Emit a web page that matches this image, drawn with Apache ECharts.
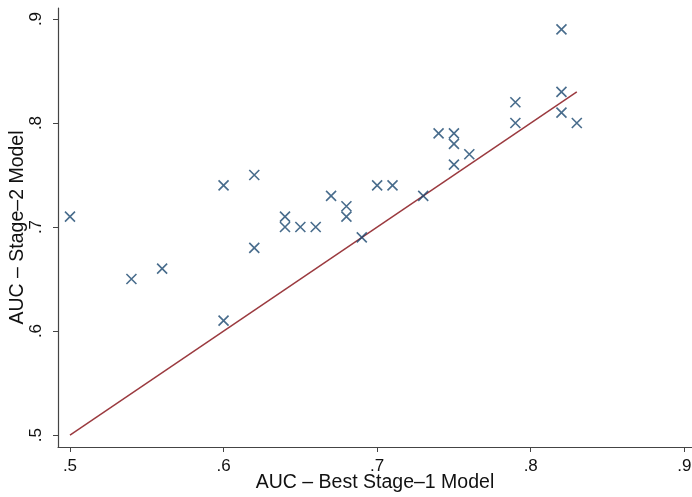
<!DOCTYPE html>
<html><head><meta charset="utf-8">
<script src="https://cdn.jsdelivr.net/npm/echarts@6/dist/echarts.min.js"></script>
<style>html,body{margin:0;padding:0;background:#fff}#c{width:692px;height:497px}</style>
</head><body><div id="c"></div>
<script>
const stage1 = [0.50,0.54,0.56,0.60,0.60,0.62,0.62,0.64,0.64,0.65,0.66,0.67,0.68,0.68,0.69,0.70,0.71,0.73,0.74,0.75,0.75,0.75,0.76,0.79,0.79,0.82,0.82,0.82,0.83];
const stage2 = [0.71,0.65,0.66,0.74,0.61,0.75,0.68,0.71,0.70,0.70,0.70,0.73,0.72,0.71,0.69,0.74,0.74,0.73,0.79,0.79,0.78,0.76,0.77,0.82,0.80,0.89,0.83,0.81,0.80];
const lineX = [0.50, 0.83];
const lineY = [0.50, 0.83];
const tickVals = [0.5,0.6,0.7,0.8,0.9];
const tickLabels = ['.5','.6','.7','.8','.9'];
const xTitle = 'AUC – Best Stage–1 Model';
const yTitle = 'AUC – Stage–2 Model';

const fmt = v => { const i = tickVals.findIndex(t => Math.abs(t - v) < 1e-6); return i >= 0 ? tickLabels[i] : ''; };
const axisCommon = {
  type: 'value',
  axisLine: { show: true, onZero: false, lineStyle: { color: '#444', width: 1.2 } },
  axisTick: { show: true, customValues: tickVals, length: 5, inside: false, lineStyle: { color: '#444', width: 1 } },
  splitLine: { show: false },
  nameLocation: 'middle',
  nameMoveOverlap: false,
  nameTextStyle: { fontFamily: 'Liberation Sans', fontSize: 19.5, color: '#111' }
};
const chart = echarts.init(document.getElementById('c'));
chart.setOption({
  animation: false,
  grid: { left: 58, right: 0, top: 8, bottom: 50, containLabel: false, outerBoundsMode: 'none' },
  xAxis: Object.assign({}, axisCommon, {
    min: 0.4922, max: 0.905, name: xTitle, nameGap: 26,
    axisLabel: { customValues: tickVals, formatter: fmt, fontFamily: 'Liberation Sans', fontSize: 17, color: '#111', margin: 11, showMaxLabel: true, showMinLabel: true }
  }),
  yAxis: Object.assign({}, axisCommon, {
    min: 0.4885, max: 0.9106, name: yTitle, nameGap: 30,
    axisLabel: { customValues: tickVals, formatter: fmt, rotate: 90, fontFamily: 'Liberation Sans', fontSize: 17, color: '#111', margin: 13, showMaxLabel: true, showMinLabel: true }
  }),
  series: [
    {
      type: 'scatter',
      data: stage1.map((x, i) => [x, stage2[i]]),
      symbol: 'path://M0,0L10,10M10,0L0,10',
      symbolSize: 10,
      itemStyle: { color: 'none', borderColor: '#1a476f', borderWidth: 1.6 },
      z: 3
    },
    {
      type: 'line',
      data: lineX.map((x, i) => [x, lineY[i]]),
      symbol: 'none',
      lineStyle: { color: '#9b3a3f', width: 1.5 },
      z: 2
    }
  ]
});
</script></body></html>
